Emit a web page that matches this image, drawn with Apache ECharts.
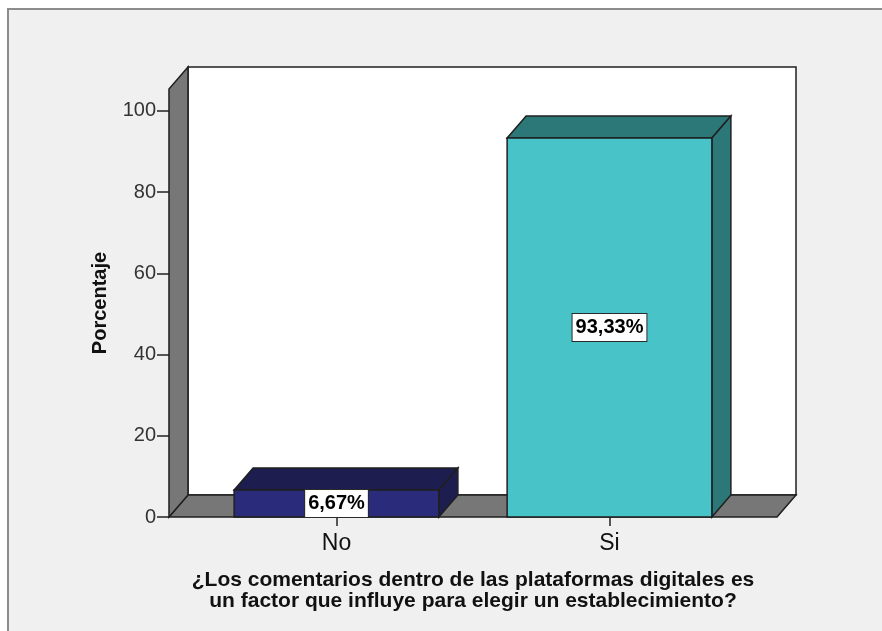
<!DOCTYPE html>
<html>
<head>
<meta charset="utf-8">
<script src="https://cdn.jsdelivr.net/npm/echarts@6/dist/echarts.min.js"></script>
<style>
  html, body { margin: 0; padding: 0; background: #ffffff; }
  #chart { width: 882px; height: 631px; }
</style>
</head>
<body>
<div id="chart"></div>
<script>
// Survey answers and their share of respondents (%)
const categories = ['No', 'Si'];
const percentages = [6.67, 93.33];
const yTickValues = [0, 20, 40, 60, 80, 100];
// Height (in axis units) reached by the walls of the 3D box
const wallTop = 105.4;

// Bar colours: front face and darker top/side faces
const faceColors = ['#2b2b7b', '#48c3c7'];
const shadeColors = ['#1d1d4f', '#2c7777'];

// 3D look
const DEPTH_X = 19;
const DEPTH_Y = 22;
const BAR_FRACTION = 0.75;      // bar width as a share of the category band
const FLOOR_OVERHANG = 0.6136;  // floor reach beyond the outer category centres, in bands
const EDGE = '#1f1f1f';
const WALL_GREY = '#777777';
const SANS = 'Liberation Sans, Arial, sans-serif';

function formatPct(v) {
  return v.toFixed(2).replace('.', ',') + '%';
}

const chart = echarts.init(document.getElementById('chart'), null, { renderer: 'canvas' });

chart.setOption({
  backgroundColor: '#ffffff',
  animation: false,
  graphic: [{
    type: 'rect',
    silent: true,
    z: -10,
    shape: { x: 8, y: 9, width: 900, height: 650 },
    style: { fill: '#f0f0f0', stroke: '#8c8c8c', lineWidth: 2 }
  }],
  grid: { left: 200, right: 136, top: 89, bottom: 114 },
  xAxis: {
    type: 'category',
    data: categories,
    axisLine: { show: false },
    axisTick: { show: true, alignWithLabel: true, length: 9, lineStyle: { color: '#222', width: 1.5 } },
    axisLabel: { margin: 15, fontSize: 23, color: '#111', fontFamily: SANS },
    name: '¿Los comentarios dentro de las plataformas digitales es\nun factor que influye para elegir un establecimiento?',
    nameLocation: 'middle',
    nameGap: 53,
    nameTextStyle: { fontWeight: 'bold', fontSize: 21, lineHeight: 21, color: '#111', fontFamily: SANS }
  },
  yAxis: {
    type: 'value',
    min: 0,
    max: wallTop,
    offset: 31,
    axisLine: { show: false },
    splitLine: { show: false },
    axisTick: { show: true, customValues: yTickValues, length: 12, lineStyle: { color: '#222', width: 1.5 } },
    axisLabel: { customValues: yTickValues, margin: 13, fontSize: 20, color: '#333', fontFamily: SANS },
    name: 'Porcentaje',
    nameLocation: 'middle',
    nameGap: 59,
    nameTextStyle: { fontWeight: 'bold', fontSize: 20, color: '#111', fontFamily: SANS }
  },
  series: [
    {
      // back wall, floor and left wall of the 3D box
      type: 'custom',
      z: 1,
      silent: true,
      clip: false,
      data: [[0, 0]],
      renderItem: function (params, api) {
        const c0 = api.coord([0, 0]);
        const c1 = api.coord([categories.length - 1, 0]);
        const band = api.size([1, 0])[0];
        const top = api.coord([0, wallTop])[1];
        const y0 = c0[1];
        const xl = c0[0] - band * FLOOR_OVERHANG;
        const xr = c1[0] + band * FLOOR_OVERHANG;
        const edge = { stroke: EDGE, lineWidth: 1.5 };
        return {
          type: 'group',
          children: [
            { type: 'rect', shape: { x: xl + DEPTH_X, y: top - DEPTH_Y, width: xr - xl, height: y0 - top },
              style: Object.assign({ fill: '#ffffff' }, edge) },
            { type: 'polygon', shape: { points: [[xl, y0], [xr, y0], [xr + DEPTH_X, y0 - DEPTH_Y], [xl + DEPTH_X, y0 - DEPTH_Y]] },
              style: Object.assign({ fill: WALL_GREY }, edge) },
            { type: 'polygon', shape: { points: [[xl, y0], [xl, top], [xl + DEPTH_X, top - DEPTH_Y], [xl + DEPTH_X, y0 - DEPTH_Y]] },
              style: Object.assign({ fill: WALL_GREY }, edge) }
          ]
        };
      }
    },
    {
      // 3D bars with their value labels
      type: 'custom',
      z: 3,
      clip: false,
      data: percentages.map(function (v, i) { return [i, v]; }),
      encode: { x: 0, y: 1 },
      renderItem: function (params, api) {
        const i = api.value(0);
        const v = api.value(1);
        const base = api.coord([i, 0]);
        const tip = api.coord([i, v]);
        const w = api.size([1, 0])[0] * BAR_FRACTION;
        const x1 = base[0] - w / 2;
        const x2 = base[0] + w / 2;
        const y0 = base[1];
        const yt = tip[1];
        const edge = { stroke: EDGE, lineWidth: 1.5 };
        return {
          type: 'group',
          children: [
            { type: 'polygon', shape: { points: [[x1, yt], [x1 + DEPTH_X, yt - DEPTH_Y], [x2 + DEPTH_X, yt - DEPTH_Y], [x2, yt]] },
              style: Object.assign({ fill: shadeColors[i] }, edge) },
            { type: 'polygon', shape: { points: [[x2, yt], [x2 + DEPTH_X, yt - DEPTH_Y], [x2 + DEPTH_X, y0 - DEPTH_Y], [x2, y0]] },
              style: Object.assign({ fill: shadeColors[i] }, edge) },
            { type: 'rect', shape: { x: x1, y: yt, width: w, height: y0 - yt },
              style: Object.assign({ fill: faceColors[i] }, edge) },
            { type: 'text', x: base[0], y: (yt + y0) / 2, z2: 10,
              style: {
                text: formatPct(v),
                fill: '#000',
                fontSize: 20,
                fontWeight: 'bold',
                fontFamily: SANS,
                align: 'center',
                verticalAlign: 'middle',
                backgroundColor: '#ffffff',
                borderColor: '#2a2a2a',
                borderWidth: 1,
                padding: [4, 3, 3, 3]
              } }
          ]
        };
      }
    }
  ]
});
</script>
</body>
</html>
